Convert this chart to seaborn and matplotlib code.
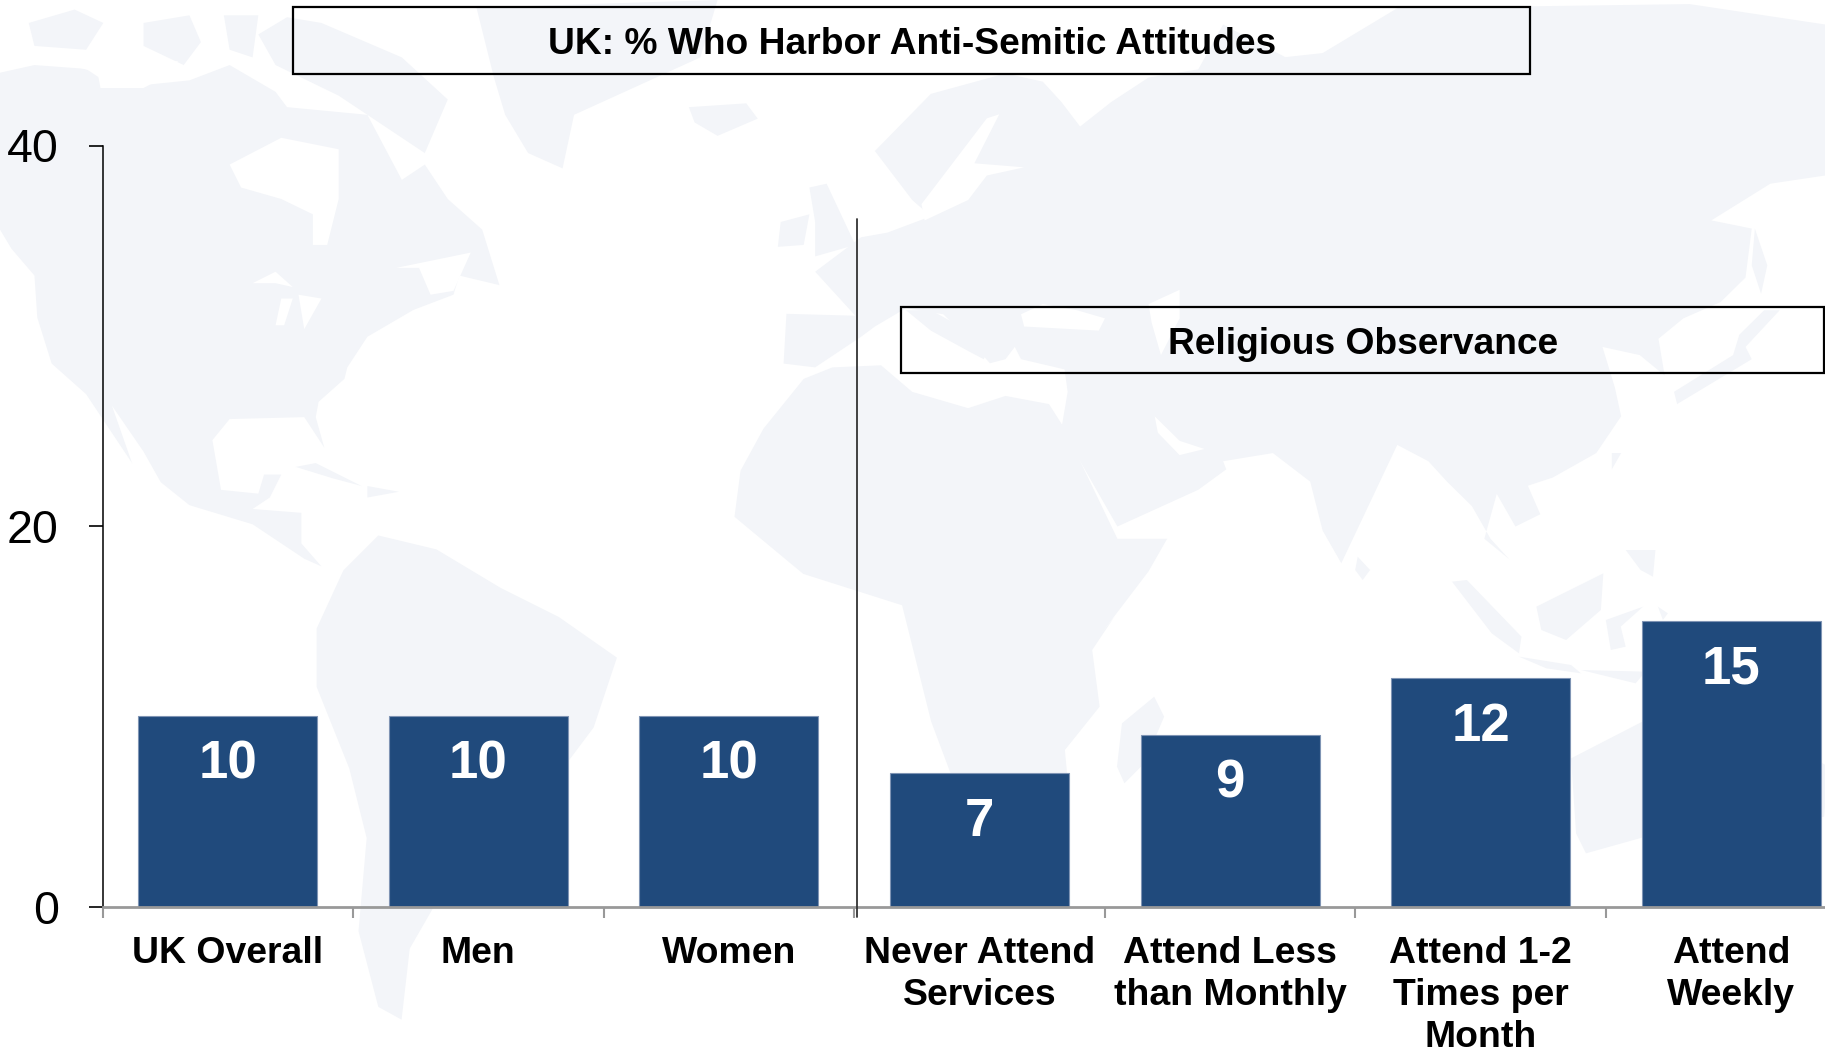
import matplotlib
matplotlib.use("Agg")
import matplotlib.pyplot as plt
from matplotlib.patches import Polygon, Rectangle
import seaborn as sns
import pandas as pd

categories = ["UK Overall", "Men", "Women", "Never Attend\nServices", "Attend Less\nthan Monthly",
              "Attend 1-2\nTimes per\nMonth", "Attend\nWeekly"]
values = [10, 10, 10, 7, 9, 12, 15]
y_ticks = [0, 20, 40]
title_text = "UK: % Who Harbor Anti-Semitic Attitudes"
group_text = "Religious Observance"

BAR = "#204a7c"
LAND = "#f3f5f9"
W, H = 1825, 1052

sns.set_theme(style="white")
plt.rcParams["font.family"] = ["Liberation Sans", "DejaVu Sans"]

fig = plt.figure(figsize=(W / 100, H / 100), dpi=100, facecolor="white")

# Decorative faint world-map backdrop, traced roughly and given in figure pixels
bg = fig.add_axes([0, 0, 1, 1], zorder=0)
bg.set_xlim(0, W)
bg.set_ylim(H, 0)
bg.axis("off")


def west(*pts):
    return [(x / 1.742, y / 2.613) for x, y in pts]


def east(*pts):
    return [(850 + x / 1.608, y / 2.45) for x, y in pts]


def south(*pts):
    return [(1050 + x / 2.015, 550 + y / 3.0) for x, y in pts]


def wide(*pts):
    return [(x * 1.164, y * 1.164) for x, y in pts]


land = [
    # North America
    west((0,190),(60,170),(150,180),(200,230),(330,210),(400,170),(480,240),(500,280),(640,300),(700,470),(740,430),(780,520),
         (840,600),(870,745),(800,720),(790,770),(720,810),(640,880),(605,960),(600,990),(555,1050),(550,1090),(565,1170),(530,1090),
         (400,1095),(370,1150),(385,1280),(450,1290),(460,1240),(490,1240),(470,1300),(440,1330),(525,1340),(525,1420),(560,1480),
         (530,1460),(440,1370),(330,1320),(280,1260),(250,1180),(195,1060),(230,1210),(150,1030),(90,950),(65,830),(60,720),(20,650),(0,600)),
    # Arctic islands, Greenland, Iceland, Britain, Ireland, Caribbean
    west((50,60),(130,25),(180,60),(150,130),(60,120)),
    west((250,60),(330,40),(350,110),(320,170),(250,120)),
    west((390,40),(450,40),(440,150),(400,130)),
    west((450,90),(500,45),(560,60),(700,150),(780,260),(740,400),(640,300),(590,250),(480,170)),
    west((830,20),(1250,0),(1220,150),(1000,300),(980,440),(920,400),(880,300),(860,200)),
    west((1200,280),(1300,270),(1320,310),(1250,355),(1210,320)),
    west((1410,490),(1440,480),(1490,640),(1420,670),(1420,580)),
    west((1360,580),(1410,560),(1400,640),(1355,645)),
    west((515,1220),(550,1210),(630,1270),(580,1250)),
    west((640,1270),(695,1285),(640,1300)),
    # South America
    wide((272,540),(295,490),(325,460),(375,472),(430,505),(480,530),(530,565),(510,625),(480,665),(440,695),(420,735),(375,775),
         (352,815),(345,876),(325,865),(308,800),(315,720),(300,660),(272,590)),
    # Eurasia
    east((40,370),(130,230),(250,180),(310,200),(340,250),(370,310),(420,250),(480,190),(560,170),(600,60),(700,140),(760,130),
         (880,20),(1350,10),(1568,60),(1568,430),(1480,450),(1385,540),(1450,560),(1440,680),(1400,740),(1340,780),(1300,830),
         (1310,920),(1270,870),(1210,850),(1230,950),(1240,1020),(1200,1110),(1130,1170),(1090,1190),(1110,1260),(1070,1290),
         (1040,1210),(1020,1320),(1060,1370),(1030,1320),(1000,1240),(960,1180),(930,1130),(880,1090),(790,1380),(760,1300),
         (740,1180),(680,1110),(600,1130),(605,1150),(560,1200),(430,1290),(340,1050),(350,960),(345,905),(275,880),(265,850),
         (250,880),(225,890),(190,830),(150,770),(90,755),(40,800))
    + west((1500,880),(1420,960),(1365,950),(1370,820),(1490,825),(1420,710),(1500,620))
    + east((60,570),(130,530),(100,490)),
    east((90,760),(130,760),(190,810),(225,850),(215,880),(190,860),(130,810)),
    # Africa
    west((1400,990),(1450,960))
    + east((50,895),(100,960),(190,1000),(250,970),(320,990),(345,1050),(430,1320),(510,1320),(480,1400),(400,1560))
    + south((130,200),(85,300),(100,470),(30,600),(35,680))
    + wide((900,690),(830,700),(800,620),(775,520),(690,493),(631,444))
    + west((1290,1230),(1330,1120)),
    # Indian Ocean and Pacific islands
    south((145,520),(210,440),(230,500),(190,640),(150,700),(135,650)),
    south((620,20),(645,60),(630,90),(615,60)),
    south((810,95),(840,90),(950,260),(945,310),(890,250)),
    south((945,320),(1050,345),(1070,370),(1000,355)),
    south((980,170),(1115,70),(1110,180),(1040,270),(990,240)),
    south((1120,210),(1195,170),(1150,230),(1160,290),(1130,300)),
    south((1160,0),(1220,0),(1215,80),(1190,60)),
    south((1225,170),(1245,190),(1235,210)),
    south((1070,360),(1200,365),(1180,400)),
    east((1225,1110),(1240,1110),(1225,1150)),
    east((1470,760),(1495,760),(1440,850),(1450,880),(1330,990),(1325,960),(1420,870),(1430,820)),
    east((1455,560),(1475,650),(1465,720),(1450,650)),
    # Australia
    south((1050,625),(1200,510),(1300,470),(1400,500),(1568,650),(1560,800),(1400,850),(1200,860),(1080,910),(1060,850)),
]
water = [
    west((400,430),(490,360),(590,390),(590,520),(570,640),(545,640),(545,560),(490,520),(420,490)),
    west((100,140),(200,155),(310,160),(300,190),(250,230),(175,230),(170,190),(110,165)),
    west((440,740),(480,710),(510,750),(480,740)),
    west((490,780),(510,780),(495,850),(480,850)),
    west((520,770),(560,780),(530,860)),
    west((690,700),(820,660),(790,760),(750,770),(730,700)),
    east((275,770),(310,745),(365,760),(410,780),(400,810),(280,800)),
    east((480,745),(530,710),(530,780),(500,870),(485,790)),
    east((490,1020),(530,1080),(570,1100),(530,1115),(495,1060)),
    east((170,390),(220,290),(240,280),(200,400),(280,410),(220,430),(190,490),(120,540),(115,500)),
]
for pts in land:
    bg.add_patch(Polygon(pts, closed=True, fc=LAND, ec="none"))
for pts in water:
    bg.add_patch(Polygon(pts, closed=True, fc="white", ec="none"))

# Main chart: x axis runs past the right figure edge as in the reference
ax = fig.add_axes([102.5 / W, (H - 906.5) / H, 1754 / W, 761 / H], zorder=1)
ax.patch.set_alpha(0)
df = pd.DataFrame({"category": categories, "value": values})
sns.barplot(data=df, x="category", y="value", color=BAR, saturation=1, width=0.714, ax=ax,
            edgecolor="#7f94b4", linewidth=0.8, clip_on=False, zorder=2)
ax.set_xlim(-0.5, 6.5)
ax.set_ylim(0, 40)
ax.set_xlabel("")
ax.set_ylabel("")

ax.set_xticks([i - 0.5 for i in range(len(categories))])
ax.set_xticklabels([])
ax.set_xticks(range(len(categories)), minor=True)
ax.set_xticklabels(categories, minor=True, fontsize=26.9, fontweight="bold", color="black", linespacing=1.26)
ax.tick_params(axis="x", which="major", length=8, width=1.5, color="#999999", direction="out", bottom=True)
ax.tick_params(axis="x", which="minor", length=0, pad=21.5, bottom=True)
ax.set_yticks(y_ticks)
ax.set_yticklabels([str(t) for t in y_ticks], fontsize=33.5, color="black")
ax.tick_params(axis="y", length=10, width=1.2, color="black", pad=21.4, left=True)

for s in ["top", "right"]:
    ax.spines[s].set_visible(False)
ax.spines["left"].set_color("black")
ax.spines["left"].set_linewidth(1.1)
ax.spines["bottom"].set_color("#999999")
ax.spines["bottom"].set_linewidth(2)

for i, v in enumerate(values):
    ax.annotate(str(v), xy=(i, v), xytext=(0, -35), textcoords="offset points", ha="center", va="center",
                fontsize=38, fontweight="bold", color="white", zorder=3)

# Divider and caption boxes in figure pixels
ov = fig.add_axes([0, 0, 1, 1], zorder=2)
ov.set_xlim(0, W)
ov.set_ylim(H, 0)
ov.axis("off")
ov.plot([856.7, 856.7], [219, 917], color="#333333", lw=1.3)
ov.add_patch(Rectangle((293.5, 6.5), 1237, 67, ec="black", lw=1.6, fill=False))
ov.add_patch(Rectangle((901.5, 306.5), 923, 66.5, ec="black", lw=1.6, fill=False))
ov.text(912, 44.5, title_text, ha="center", va="center", fontsize=26.7, fontweight="bold", color="black")
ov.text(1363, 344.5, group_text, ha="center", va="center", fontsize=26.7, fontweight="bold", color="black")

fig.savefig("out.png", dpi=100, facecolor="white")
